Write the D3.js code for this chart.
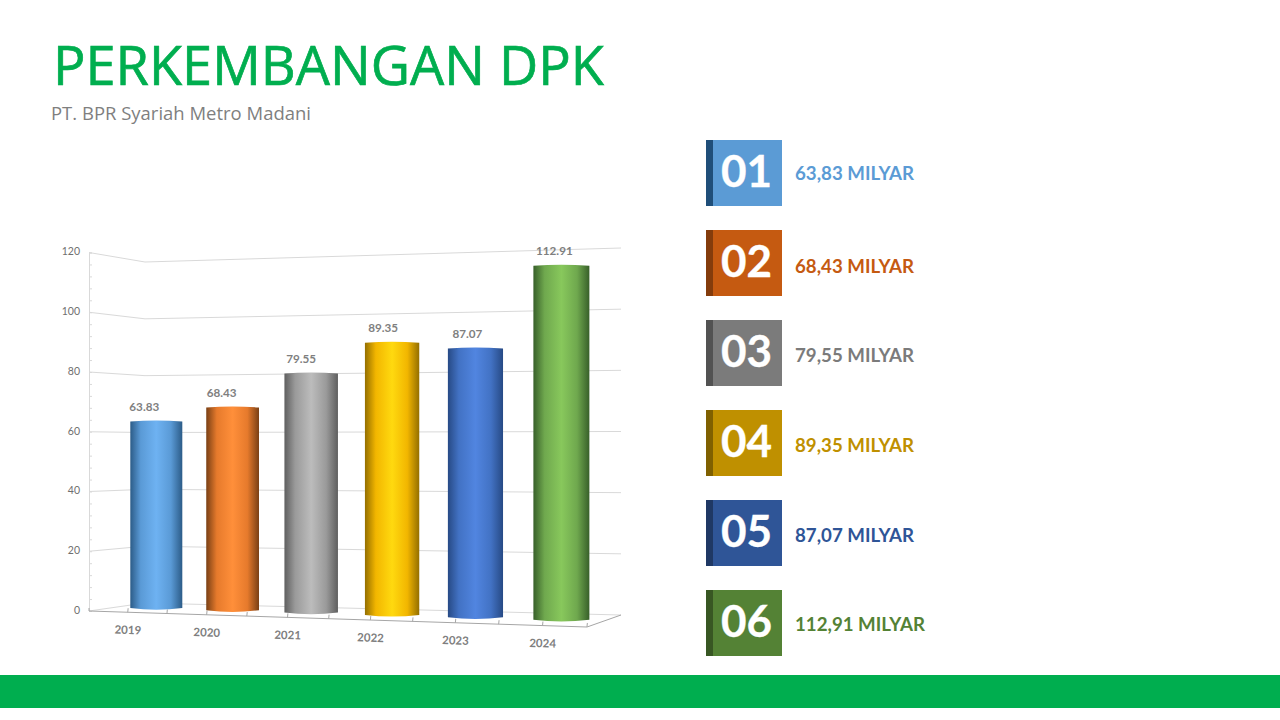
<!DOCTYPE html>
<html><head><meta charset="utf-8">
<script src="https://cdn.jsdelivr.net/npm/d3@7"></script>
<style>
html,body{margin:0;padding:0;background:#fff;overflow:hidden}
svg{display:block}
</style></head><body>
<svg id="c" width="1280" height="720"></svg>
<script>
const titleText = "PERKEMBANGAN DPK";
const subtitleText = "PT. BPR Syariah Metro Madani";
const categories = ["2019","2020","2021","2022","2023","2024"];
const values = [63.83,68.43,79.55,89.35,87.07,112.91];
const valueLabels = ["63.83","68.43","79.55","89.35","87.07","112.91"];
const numbers = ["01","02","03","04","05","06"];
const summaries = ["63,83 MILYAR","68,43 MILYAR","79,55 MILYAR","89,35 MILYAR","87,07 MILYAR","112,91 MILYAR"];
const panelColors = ["#5b9bd5","#c55a11","#7b7b7b","#bf9000","#2f5597","#548235"];
const panelDark = ["#1f4e79","#843c0c","#525252","#7f6000","#1f3864","#385723"];
const barEdge = ["#2c5c88","#7a4015","#5f5f5f","#946f00","#274a85","#38602a"];
const barMid = ["#5a9ad6","#e67a2c","#9a9a9a","#f2b600","#4272c4","#6fa84e"];
const barLight = ["#6eb2f2","#ff8f3a","#bcbcbc","#ffd90f","#5185e0","#88c85c"];
const yTicks = [0,20,40,60,80,100,120];
const yMinor = d3.range(0,121,4);

const svg = d3.select("#c");
const MAIN = "Lato, Carlito, sans-serif";
const HEAD = "'Open Sans','Noto Sans',sans-serif";

// Perspective of the 3-D plot: nearer categories are drawn larger
const depth = d3.scaleLinear([0,5],[1,0.9286]);
const project = s => i => s(i)/depth(i);
const xCenter = project(d3.scaleLinear([0,5],[156.3,521.3]));
const barBase = project(d3.scaleLinear([0,5],[608,575.6]));
const barHalf = i => 26/depth(i);
const unitPx = project(d3.scaleLinear([0,5],[2.937,2.92]));
const labelShift = d3.scaleLinear([0,5],[-12,-7]);

// Wall and floor scales
const wallLeft = d3.scaleLinear([0,120],[611,252.5]);
const wallCorner = d3.scaleLinear([0,120],[603,262]);
const wallRight = d3.scaleLinear([0,120],[615,248]);
const cornerX = 145, leftX = 89, rightX = 621, frontX = 587, frontY = 627;

// Green footer
svg.append("rect").attr("x",0).attr("y",675).attr("width",1280).attr("height",33).attr("fill","#00ae4f");

// Title
svg.append("text").attr("x",53).attr("y",85).attr("font-family",HEAD).attr("font-size",55)
  .attr("fill","#00ae4f").attr("stroke","#00ae4f").attr("stroke-width",0.7)
  .attr("textLength",551).attr("lengthAdjust","spacingAndGlyphs").text(titleText);
svg.append("text").attr("x",51).attr("y",120).attr("font-family",HEAD).attr("font-size",18)
  .attr("fill","#7f7f7f").attr("textLength",260).attr("lengthAdjust","spacingAndGlyphs").text(subtitleText);

// Gridlines
const grid = svg.append("g").attr("fill","none").attr("stroke","#d9d9d9").attr("stroke-width",1);
grid.selectAll("path").data(yTicks).join("path")
  .attr("d",v=>d3.line()([[leftX,wallLeft(v)],[cornerX,wallCorner(v)],[rightX,wallRight(v)]]));

// Y axis
const yAxis = d3.axisLeft(wallLeft).tickValues(yMinor).tickSize(-3).tickFormat("");
const yg = svg.append("g").attr("transform",`translate(${leftX},0)`).call(yAxis);
yg.selectAll("path,line").attr("stroke","#d9d9d9");
svg.append("g").selectAll("text").data(yTicks).join("text")
  .attr("x",80).attr("y",v=>wallLeft(v)+2.8).attr("text-anchor","end")
  .attr("font-family",MAIN).attr("font-size",10.5).attr("fill","#6f6f6f").text(d=>d);

// Floor front edge
const tickDepth = d3.scaleLinear([0,12],[1,0.928]);
const tickNum = d3.scaleLinear([0,12],[89,544.7]);
const tickX = k => tickNum(k)/tickDepth(k);
const edgeY = d3.scaleLinear([89,587],[611,frontY]);
svg.append("path").attr("fill","none").attr("stroke","#a6a6a6").attr("stroke-width",1)
  .attr("d",d3.line()([[leftX,wallLeft(0)-3],[leftX,edgeY(89)],[frontX,frontY],[rightX,wallRight(0)]]));
svg.append("g").selectAll("line").data(d3.range(1,13)).join("line")
  .attr("x1",k=>tickX(k)).attr("x2",k=>tickX(k)+0.4)
  .attr("y1",k=>edgeY(tickX(k))).attr("y2",k=>edgeY(tickX(k))-4)
  .attr("stroke","#a6a6a6");

// X labels
svg.append("g").selectAll("text").data(categories).join("text")
  .attr("text-anchor","middle")
  .attr("transform",(d,i)=>{const x=tickX(2*i+1);return `translate(${x},${edgeY(x)+21.7}) rotate(1.6)`;})
  .attr("font-family",MAIN).attr("font-weight",700).attr("font-size",11.5).attr("fill","#7f7f7f").text(d=>d);

// Bar gradients
const defs = svg.append("defs");
const grads = defs.selectAll("linearGradient").data(categories).join("linearGradient")
  .attr("id",(d,i)=>"g"+i).attr("x1",0).attr("x2",1).attr("y1",0).attr("y2",0);
grads.each(function(d,i){
  const stops=[[0,barEdge[i]],[.2,barMid[i]],[.5,barLight[i]],[.78,barMid[i]],[1,barEdge[i]]];
  d3.select(this).selectAll("stop").data(stops).join("stop")
    .attr("offset",s=>s[0]).attr("stop-color",s=>s[1]);
});

// Bars
const barPath = (v,i)=>{
  const c=xCenter(i),h=barHalf(i),b=barBase(i),t=b-unitPx(i)*v;
  const p=d3.path();
  p.moveTo(c-h,t+1); p.lineTo(c-h,b);
  p.quadraticCurveTo(c,b+3.4,c+h,b);
  p.lineTo(c+h,t+1);
  p.quadraticCurveTo(c,t-1,c-h,t+1);
  p.closePath();
  return p.toString();
};
svg.append("g").selectAll("path").data(values).join("path")
  .attr("d",barPath).attr("fill",(d,i)=>`url(#g${i})`);

// Value labels
svg.append("g").selectAll("text").data(values).join("text")
  .attr("text-anchor","middle")
  .attr("x",(v,i)=>xCenter(i)+labelShift(i))
  .attr("y",(v,i)=>barBase(i)-unitPx(i)*v-9.5)
  .attr("font-family",MAIN).attr("font-weight",700).attr("font-size",11.7).attr("fill","#7f7f7f")
  .text((v,i)=>valueLabels[i]);

// Right-hand panel
const rowY = d3.scaleLinear([0,5],[140,590]);
const rows = svg.append("g").selectAll("g").data(numbers).join("g")
  .attr("transform",(d,i)=>`translate(706,${rowY(i)})`);
rows.append("rect").attr("width",76).attr("height",66).attr("fill",(d,i)=>panelColors[i]);
rows.append("rect").attr("width",7).attr("height",66).attr("fill",(d,i)=>panelDark[i]);
rows.append("text").attr("x",40.5).attr("y",47).attr("text-anchor","middle")
  .attr("font-family",MAIN).attr("font-weight",700).attr("font-size",44)
  .attr("fill","#fff").attr("stroke","#fff").attr("stroke-width",0.3).text(d=>d);
rows.append("text").attr("x",89).attr("y",(d,i)=>[40,43,42,42,42,41][i])
  .attr("font-family",MAIN).attr("font-weight",700).attr("font-size",18.7).attr("fill",(d,i)=>panelColors[i])
  .text((d,i)=>summaries[i]);
</script>
</body></html>
